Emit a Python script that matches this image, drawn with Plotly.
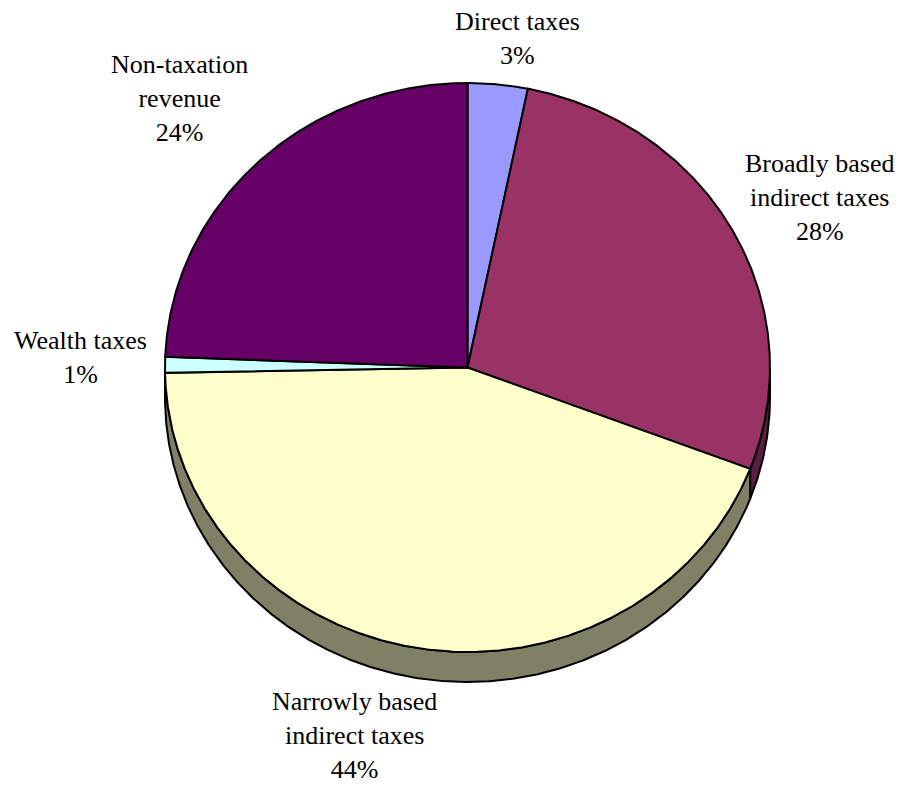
import numpy as np
import plotly.graph_objects as go

categories = ["Direct taxes", "Broadly based<br>indirect taxes", "Narrowly based<br>indirect taxes",
              "Wealth taxes", "Non-taxation<br>revenue"]
values = [3.2, 27.6, 43.9, 0.9, 24.4]
top_colors = ["#9999FF", "#993366", "#FFFFCC", "#CCFFFF", "#660066"]
side_colors = ["#4D4D80", "#5A1E44", "#808066", "#668080", "#330033"]

# label block centres in pixels (layout only)
label_pos = [(517, 38), (819, 197), (354, 735), (80, 357), (179, 98)]

W, H = 903, 789
cx, cy, rx, ry, depth = 467.5, 367.5, 302.5, 284.5, 30
FONT = "Liberation Serif, Times New Roman, serif"

total = float(sum(values))
cum = np.concatenate([[0.0], np.cumsum(values)]) / total * 360.0


def arc(a1, a2, dy=0.0):
    th = np.radians(np.linspace(a1, a2, max(3, int(abs(a2 - a1) * 3) + 2)))
    return cx + rx * np.sin(th), cy - ry * np.cos(th) + dy


fig = go.Figure()

# side wall (front half only)
for i in range(len(values)):
    lo, hi = max(cum[i], 90.0), min(cum[i + 1], 270.0)
    if lo < hi:
        xt, yt = arc(lo, hi)
        xb, yb = arc(lo, hi, depth)
        xs = np.concatenate([xt, xb[::-1], xt[:1]])
        ys = np.concatenate([yt, yb[::-1], yt[:1]])
        fig.add_trace(go.Scatter(x=xs, y=ys, mode="lines", fill="toself",
                                 fillcolor=side_colors[i], line=dict(color="black", width=2),
                                 hoverinfo="skip", showlegend=False))

# top face slices
for i, (lab, v) in enumerate(zip(categories, values)):
    xa, ya = arc(cum[i], cum[i + 1])
    xs = np.concatenate([[cx], xa, [cx]])
    ys = np.concatenate([[cy], ya, [cy]])
    fig.add_trace(go.Scatter(x=xs, y=ys, mode="lines", fill="toself",
                             fillcolor=top_colors[i], line=dict(color="black", width=2),
                             hoveron="fills", hoverinfo="text",
                             text=f"{lab.replace('<br>', ' ')}: {round(100 * v / total)}%",
                             showlegend=False))

for lab, v, (px, py) in zip(categories, values, label_pos):
    fig.add_annotation(x=px, y=py, xref="x", yref="y",
                       xanchor="center", yanchor="middle", showarrow=False, align="center",
                       text=f"{lab}<br>{round(100 * v / total)}%",
                       font=dict(family=FONT, size=26, color="black"))

fig.update_xaxes(range=[0, W], visible=False, fixedrange=True)
fig.update_yaxes(range=[H, 0], visible=False, fixedrange=True)
fig.update_layout(width=W, height=H, margin=dict(l=0, r=0, t=0, b=0),
                  font=dict(family=FONT, size=26, color="black"),
                  paper_bgcolor="white", plot_bgcolor="white")
fig.write_html("out.html")
